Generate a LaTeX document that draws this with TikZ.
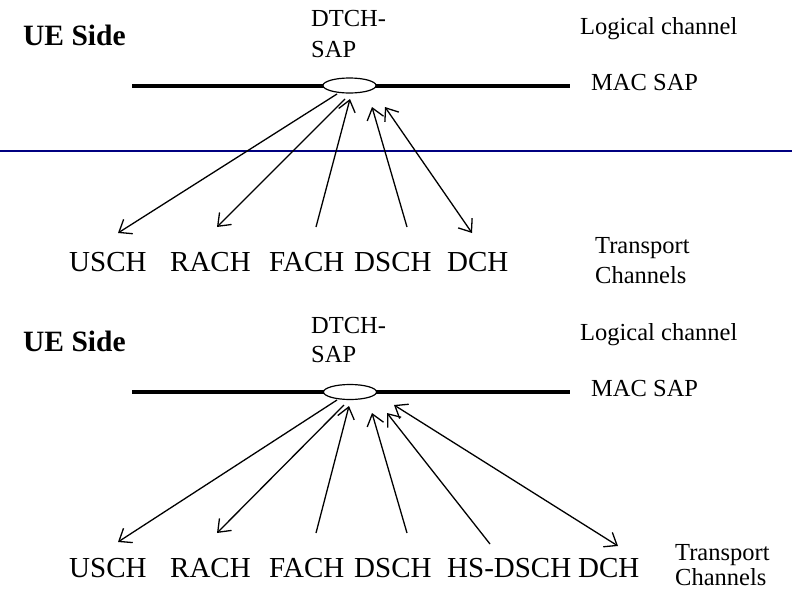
\documentclass[tikz,border=0pt]{standalone}
\usepackage{fontspec}
\setmainfont{Liberation Serif}
\usetikzlibrary{arrows.meta,shapes.geometric}
\definecolor{navyline}{RGB}{0,0,128}
\begin{document}
\begin{tikzpicture}[x=1pt,y=-1pt,
  lbl/.style={anchor=base west,inner sep=0pt,font=\fontsize{29}{32}\selectfont},
  side/.style={anchor=base west,inner sep=0pt,font=\fontsize{29.5}{32}\selectfont\bfseries},
  note/.style={anchor=base west,inner sep=0pt,font=\fontsize{24.5}{28}\selectfont},
  macline/.style={line width=4.5pt},
  sapnode/.style={ellipse,draw,fill=white,line width=1.2pt,minimum width=53pt,minimum height=15pt,inner sep=0pt},
  conn/.style={line width=1.3pt},
  tipend/.style={-{Straight Barb[length=11pt,width=17pt]}},
  tipboth/.style={{Straight Barb[length=11pt,width=17pt]}-{Straight Barb[length=11pt,width=17pt]}},
]
\useasboundingbox (0,0) rectangle (792,589);

% ---------- top panel ----------
\node[side] (ue1) at (23,45) {UE Side};
\node[note] (dtA1) at (311,27) {DTCH-};
\node[note] (dtB1) at (311,57) {SAP};
\node[note] (log1) at (580,34) {Logical channel};
\node[note] (mac1) at (591,90) {MAC SAP};
\coordinate (macL1) at (132,86);
\coordinate (macR1) at (570,86);
\draw[macline] (macL1) -- (macR1);
\node[sapnode] (sap1) at (349.5,85.5) {};

\coordinate (bL) at (0,151);
\coordinate (bR) at (792,151);
\draw[navyline,line width=2pt] (bL) -- (bR);

\node[lbl] (usch1) at (69,271) {USCH};
\node[lbl] (rach1) at (170,271) {RACH};
\node[lbl] (fach1) at (269,271) {FACH};
\node[lbl] (dsch1) at (354,271) {DSCH};
\node[lbl] (dch1) at (447,271) {DCH};
\node[note] (trA1) at (595,253) {Transport};
\node[note] (trB1) at (595,283) {Channels};

\coordinate (uS1) at (337,94);   \coordinate (uE1) at (118,233);
\coordinate (rS1) at (345,99);   \coordinate (rE1) at (217,227);
\coordinate (fS1) at (316,227);  \coordinate (fE1) at (350,99);
\coordinate (dS1) at (407,227);  \coordinate (dE1) at (372,107);
\coordinate (cS1) at (472,233);  \coordinate (cE1) at (385,107);
\draw[conn,tipend] (uS1) -- (uE1);
\draw[conn,tipend] (rS1) -- (rE1);
\draw[conn,tipend] (fS1) -- (fE1);
\draw[conn,tipend] (dS1) -- (dE1);
\draw[conn,tipboth] (cS1) -- (cE1);

% ---------- bottom panel ----------
\node[side] (ue2) at (23,351) {UE Side};
\node[note] (dtA2) at (311,333) {DTCH-};
\node[note] (dtB2) at (311,362) {SAP};
\node[note] (log2) at (580,340) {Logical channel};
\node[note] (mac2) at (591,396) {MAC SAP};
\coordinate (macL2) at (132,392);
\coordinate (macR2) at (570,392);
\draw[macline] (macL2) -- (macR2);
\node[sapnode] (sap2) at (350,392) {};

\node[lbl] (usch2) at (69,577) {USCH};
\node[lbl] (rach2) at (170,577) {RACH};
\node[lbl] (fach2) at (269,577) {FACH};
\node[lbl] (dsch2) at (354,577) {DSCH};
\node[lbl] (hs2) at (447,577) {HS-DSCH};
\node[lbl] (dch2) at (578,577) {DCH};
\node[note] (trA2) at (675,560) {Transport};
\node[note] (trB2) at (675,585) {Channels};

\coordinate (uS2) at (337,400);  \coordinate (uE2) at (118,542);
\coordinate (rS2) at (344,405);  \coordinate (rE2) at (217,533);
\coordinate (fS2) at (316,533);  \coordinate (fE2) at (349,406);
\coordinate (dS2) at (407,533);  \coordinate (dE2) at (372,413);
\coordinate (hS2) at (490,544);  \coordinate (hE2) at (387,413);
\coordinate (cS2) at (618,546);  \coordinate (cE2) at (394,405);
\draw[conn,tipend] (uS2) -- (uE2);
\draw[conn,tipend] (rS2) -- (rE2);
\draw[conn,tipend] (fS2) -- (fE2);
\draw[conn,tipend] (dS2) -- (dE2);
\draw[conn,tipend] (hS2) -- (hE2);
\draw[conn,tipboth] (cS2) -- (cE2);
\end{tikzpicture}
\end{document}
